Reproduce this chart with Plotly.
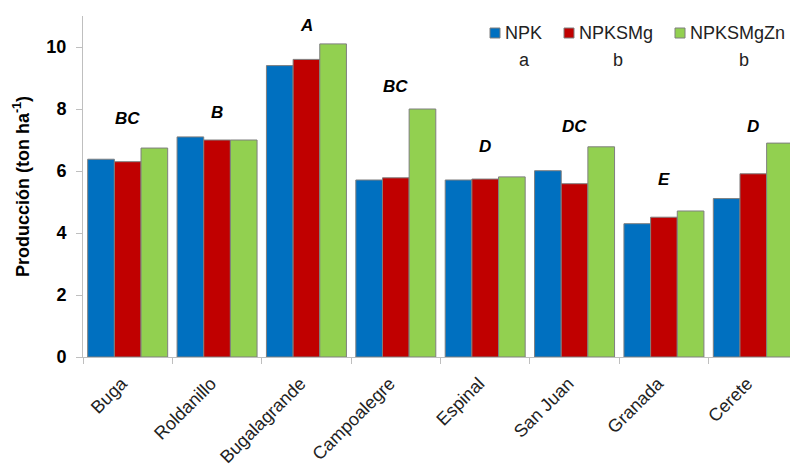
import plotly.graph_objects as go

categories = ["Buga", "Roldanillo", "Bugalagrande", "Campoalegre", "Espinal", "San Juan", "Granada", "Cerete"]
npk = [6.38, 7.10, 9.40, 5.71, 5.71, 6.01, 4.30, 5.11]
npksmg = [6.30, 7.00, 9.60, 5.78, 5.74, 5.59, 4.51, 5.91]
npksmgzn = [6.74, 7.00, 10.10, 8.00, 5.81, 6.78, 4.71, 6.90]
group_letters = ["BC", "B", "A", "BC", "D", "DC", "E", "D"]
letter_heights = [7.68, 7.88, 10.68, 8.74, 6.78, 7.45, 5.71, 7.45]
series_names = ["NPK", "NPKSMg", "NPKSMgZn"]
series_letters = ["a", "b", "b"]
colors = ["#0070C0", "#C00000", "#92D050"]
y_ticks = [0, 2, 4, 6, 8, 10]

FONT = "Liberation Sans, Arial, sans-serif"

# the page body adds an 8px offset; compensate so the plot area lands at
# x 83..798, y 16..357 of the 798x467 window
OFF = 8
W, H = 798 - OFF, 467 - OFF
L, T, R = 83 - OFF, 16 - OFF, 0
PH = 357 - 16
B = H - T - PH
PW = W - L - R


def px_x(px):  # window pixel -> paper x
    return (px - OFF - L) / PW


def px_y(py):  # window pixel -> paper y
    return (T + PH - (py - OFF)) / PH


fig = go.Figure()
for name, vals, col in zip(series_names, [npk, npksmg, npksmgzn], colors):
    fig.add_trace(go.Bar(
        x=categories, y=vals, name=name, showlegend=False,
        marker=dict(color=col, line=dict(color="#7F7F7F", width=1)),
    ))

annotations = []
shapes = []
for cat, lab, h in zip(categories, group_letters, letter_heights):
    annotations.append(dict(
        x=cat, y=h, xref="x", yref="y", text="<b><i>%s</i></b>" % lab,
        showarrow=False, font=dict(family=FONT, size=17, color="#000"),
        xanchor="center", yanchor="middle",
    ))

# hand-made legend: square + name, and significance letter below
square_centers = [495, 569, 680]
text_lefts = [503, 577, 688]
letter_centers = [524, 618, 744]
for i, (name, lab, col) in enumerate(zip(series_names, series_letters, colors)):
    cx = square_centers[i]
    shapes.append(dict(
        type="rect", xref="paper", yref="paper",
        x0=px_x(cx - 5), x1=px_x(cx + 5), y0=px_y(38), y1=px_y(28),
        fillcolor=col, line=dict(color="#7F7F7F", width=1),
    ))
    annotations.append(dict(
        x=px_x(text_lefts[i]), y=px_y(33), xref="paper", yref="paper",
        text=name, showarrow=False, font=dict(family=FONT, size=18, color="#222"),
        xanchor="left", yanchor="middle",
    ))
    annotations.append(dict(
        x=px_x(letter_centers[i]), y=px_y(60), xref="paper", yref="paper",
        text=lab, showarrow=False, font=dict(family=FONT, size=18, color="#222"),
        xanchor="center", yanchor="middle",
    ))

fig.update_layout(
    width=W, height=H,
    margin=dict(l=L, r=R, t=T, b=B, autoexpand=False),
    paper_bgcolor="white", plot_bgcolor="white",
    barmode="group", bargap=0.105, bargroupgap=0,
    font=dict(family=FONT, color="#000"),
    showlegend=False,
    annotations=annotations,
    shapes=shapes,
    xaxis=dict(
        automargin=False,
        showline=True, linecolor="#BFBFBF", linewidth=1,
        ticks="outside", tickson="boundaries", ticklen=6, tickcolor="#BFBFBF",
        tickangle=-45, tickfont=dict(family=FONT, size=18, color="#222"),
        ticklabelstandoff=8, ticklabelshift=-6,
        showgrid=False,
    ),
    yaxis=dict(
        automargin=False,
        range=[0, 11], tickvals=y_ticks, ticktext=["<b>%d</b>" % v for v in y_ticks],
        showline=True, linecolor="#BFBFBF", linewidth=1,
        ticks="outside", ticklen=6, tickcolor="#BFBFBF",
        tickfont=dict(family=FONT, size=18, color="#000"),
        ticklabelstandoff=6,
        showgrid=False, zeroline=False,
        title=dict(text="<b>Producción (ton ha<sup>-1</sup>)</b>",
                   font=dict(family=FONT, size=18, color="#000"), standoff=12),
    ),
)

fig.write_html("out.html")
